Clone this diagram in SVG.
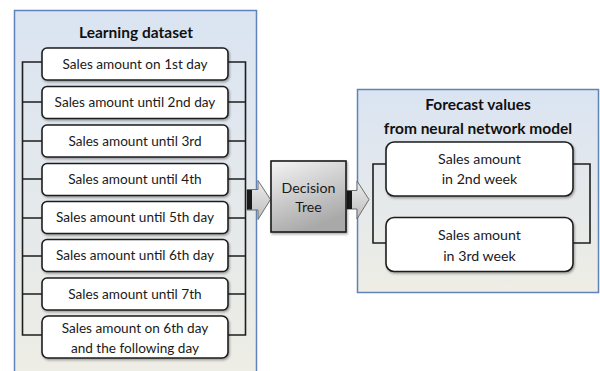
<svg xmlns="http://www.w3.org/2000/svg" width="600" height="371" viewBox="0 0 600 371">
<defs>
<linearGradient id="panelL" x1="0" y1="0" x2="0" y2="1">
<stop offset="0" stop-color="#dae4f2"/>
<stop offset="1" stop-color="#eeede5"/>
</linearGradient>
<linearGradient id="panelR" x1="0" y1="0" x2="0" y2="1">
<stop offset="0" stop-color="#dae4f2"/>
<stop offset="1" stop-color="#eeede5"/>
</linearGradient>
<linearGradient id="dt" x1="0" y1="0" x2="0.4" y2="1">
<stop offset="0" stop-color="#f4f4f4"/>
<stop offset="1" stop-color="#a9a9a9"/>
</linearGradient>
<linearGradient id="arr" x1="0" y1="0" x2="0" y2="1">
<stop offset="0" stop-color="#ececec"/>
<stop offset="1" stop-color="#bdbdbd"/>
</linearGradient>
<filter id="sh" x="-10%" y="-10%" width="130%" height="130%">
<feDropShadow dx="1" dy="1.5" stdDeviation="1" flood-color="#000" flood-opacity="0.35"/>
</filter>
</defs>
<style>
.panel{stroke:#5f83b8;stroke-width:1.5}
.box{fill:#fff;stroke:#1e1e1e;stroke-width:1.6}
.ln{fill:none;stroke:#1e1e1e;stroke-width:1.6}
.t{font-family:Lato,"Liberation Sans",sans-serif;font-size:13.6px;fill:#1a1a1a;text-anchor:middle}
.tb{font-family:Lato,"Liberation Sans",sans-serif;font-size:14.2px;fill:#1a1a1a;text-anchor:middle}
.h{font-family:Lato,"Liberation Sans",sans-serif;font-size:15.5px;font-weight:bold;fill:#111;text-anchor:middle}
</style>

<g id="learning-dataset">
<rect class="panel" x="14.5" y="10.5" width="242" height="370" fill="url(#panelL)"/>
<text class="h" x="136" y="37.5">Learning dataset</text>
</g>

<g id="forecast-panel">
<rect class="panel" x="357.5" y="89.5" width="241" height="203" fill="url(#panelR)"/>
<text class="h" x="478" y="110">Forecast values</text>
<text class="h" x="478" y="133.5">from neural network model</text>
</g>

<g id="connectors">
<path class="ln" d="M42,62 H22.5 V335 H42 M228,62 H245.5 V335 H228"/>
<path class="ln" d="M22.5,102 H42 M22.5,141 H42 M22.5,179 H42 M22.5,218 H42 M22.5,256 H42 M22.5,294 H42 M228,102 H245.5 M228,141 H245.5 M228,179 H245.5 M228,218 H245.5 M228,256 H245.5 M228,294 H245.5"/>
<path class="ln" d="M386,164 H373 V243 H386 M573,164 H590 V243 H573"/>
<g id="arrow-in">
<path d="M247,189.5 H258 V180.5 L270.5,199.5 L258,219.5 V210 H247 Z" fill="url(#arr)" stroke="#6d6d6d" stroke-width="1"/>
<rect x="247" y="190" width="5" height="19.5" fill="#1a1a1a"/>
</g>
<g id="arrow-out">
<path d="M347,190.5 H357 V181 L369,199.5 L357,219 V209 H347 Z" fill="url(#arr)" stroke="#6d6d6d" stroke-width="1"/>
<rect x="347" y="191" width="5" height="18" fill="#1a1a1a"/>
</g>
</g>

<g id="box1"><rect class="box" x="42" y="48" width="186" height="32" rx="5" filter="url(#sh)"/><text class="t" x="135" y="68.5">Sales amount on 1st day</text></g>
<g id="box2"><rect class="box" x="42" y="86.5" width="186" height="32" rx="5" filter="url(#sh)"/><text class="t" x="135" y="107">Sales amount until 2nd day</text></g>
<g id="box3"><rect class="box" x="42" y="125" width="186" height="32" rx="5" filter="url(#sh)"/><text class="t" x="135" y="145.5">Sales amount until 3rd</text></g>
<g id="box4"><rect class="box" x="42" y="163.5" width="186" height="32" rx="5" filter="url(#sh)"/><text class="t" x="135" y="184">Sales amount until 4th</text></g>
<g id="box5"><rect class="box" x="42" y="201.5" width="186" height="32" rx="5" filter="url(#sh)"/><text class="t" x="135" y="222">Sales amount until 5th day</text></g>
<g id="box6"><rect class="box" x="42" y="239.5" width="186" height="32" rx="5" filter="url(#sh)"/><text class="t" x="135" y="260">Sales amount until 6th day</text></g>
<g id="box7"><rect class="box" x="42" y="278" width="186" height="32" rx="5" filter="url(#sh)"/><text class="t" x="135" y="298.5">Sales amount until 7th</text></g>
<g id="box8"><rect class="box" x="42" y="316" width="186" height="42" rx="6" filter="url(#sh)"/><text class="t" x="135" y="333">Sales amount on 6th day</text><text class="t" x="135" y="352.5">and the following day</text></g>

<g id="decision-tree">
<rect x="271" y="161" width="75" height="71" fill="url(#dt)" stroke="#1a1a1a" stroke-width="1.6" filter="url(#sh)"/>
<text class="tb" x="308.5" y="192.5">Decision</text>
<text class="tb" x="308.5" y="212">Tree</text>
</g>

<g id="week2"><rect class="box" x="386" y="142" width="187" height="54" rx="8" filter="url(#sh)"/><text class="tb" x="479.5" y="163.5">Sales amount</text><text class="tb" x="479.5" y="183.5">in 2nd week</text></g>
<g id="week3"><rect class="box" x="386" y="217.5" width="187" height="54" rx="8" filter="url(#sh)"/><text class="tb" x="479.5" y="240">Sales amount</text><text class="tb" x="479.5" y="260.5">in 3rd week</text></g>
</svg>
